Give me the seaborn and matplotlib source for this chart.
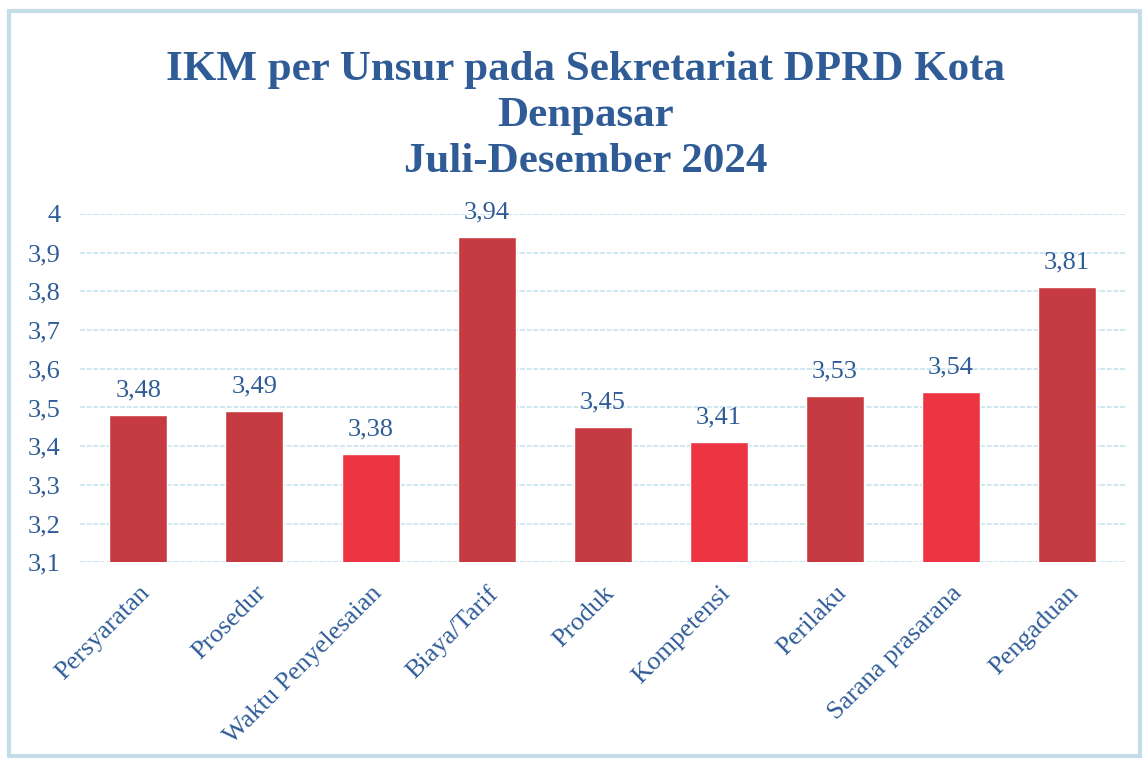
import matplotlib
matplotlib.use("Agg")
import matplotlib.pyplot as plt
import seaborn as sb
import pandas as pd
from matplotlib.patches import Rectangle

# Data
unsur = ["Persyaratan", "Prosedur", "Waktu Penyelesaian", "Biaya/Tarif", "Produk",
         "Kompetensi", "Perilaku", "Sarana prasarana", "Pengaduan"]
nilai = [3.48, 3.49, 3.38, 3.94, 3.45, 3.41, 3.53, 3.54, 3.81]
warna = ["#c63b42", "#c63b42", "#ec3443", "#c63b42", "#c63b42",
         "#ec3443", "#c63b42", "#ec3443", "#c63b42"]
y_ticks = [3.1, 3.2, 3.3, 3.4, 3.5, 3.6, 3.7, 3.8, 3.9, 4.0]

blue = "#2f5c97"
sb.set_style("white")
plt.rcParams['font.family'] = ['Liberation Serif', 'DejaVu Serif']

df = pd.DataFrame({"unsur": unsur, "nilai": nilai})
fig = plt.figure(figsize=(11.48, 7.64), dpi=100)
ax = fig.add_axes([0.07, 0.264, 0.91, 0.456])

sb.barplot(data=df, x="unsur", y="nilai", hue="unsur", palette=warna, saturation=1,
           legend=False, width=0.5, ax=ax, zorder=3)

ax.set_ylim(3.1, 4.0)
ax.set_xlim(-0.5, len(unsur) - 0.5)
ax.set_yticks(y_ticks)
ax.set_yticklabels([f"{t:g}".replace(".", ",") for t in y_ticks], color=blue, fontsize=19)
ax.yaxis.grid(True, color="#c8e4f0", linewidth=1.2, linestyle=(0, (3, 1)), zorder=0)
ax.tick_params(axis="both", length=0, pad=14)
ax.tick_params(axis="y", pad=14)
ax.set_xticks(range(len(unsur)))
ax.set_xticklabels(unsur, rotation=45, ha="right", rotation_mode="anchor",
                   color=blue, fontsize=19)
ax.set_xlabel("")
ax.set_ylabel("")
for s in ax.spines.values():
    s.set_visible(False)

for i, v in enumerate(nilai):
    ax.text(i, v + 0.035, f"{v:.2f}".replace(".", ","), ha="center", va="bottom",
            color=blue, fontsize=19)

fig.suptitle("IKM per Unsur pada Sekretariat DPRD Kota\nDenpasar\nJuli-Desember 2024",
             x=0.51, y=0.933, color=blue, fontsize=31, fontweight="bold",
             linespacing=1.27)

fig.patches.append(Rectangle((0.008, 0.01), 0.985, 0.975, transform=fig.transFigure,
                             fill=False, edgecolor="#c5dde8", linewidth=3))

plt.savefig("out.png", dpi=100)
